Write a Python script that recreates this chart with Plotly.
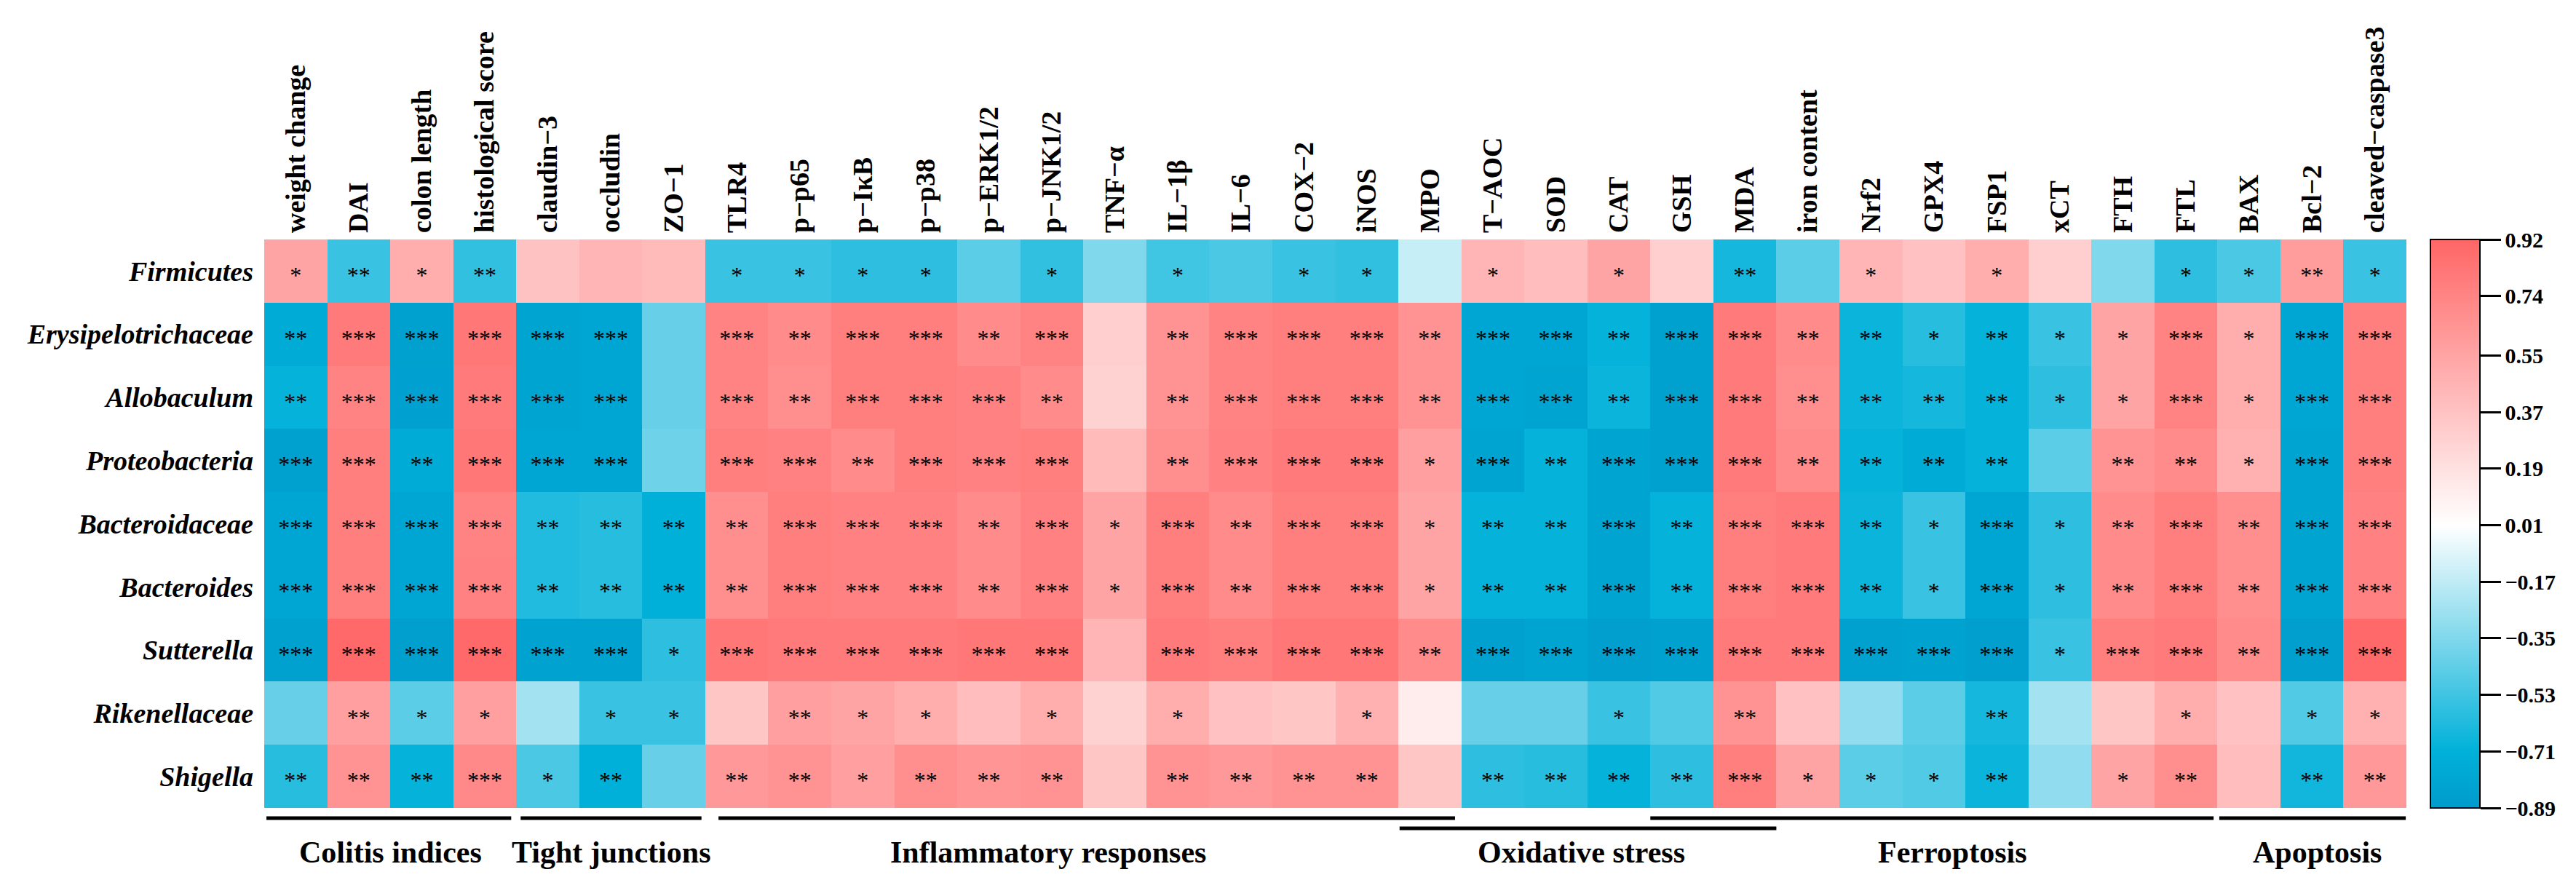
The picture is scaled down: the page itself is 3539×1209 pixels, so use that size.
import plotly.graph_objects as go

# ---------------- data ----------------
columns = ["weight change", "DAI", "colon length", "histological score",
           "claudin−3", "occludin", "ZO−1",
           "TLR4", "p−p65", "p−IκB", "p−p38", "p−ERK1/2", "p−JNK1/2", "TNF−α",
           "IL−1β", "IL−6", "COX−2", "iNOS", "MPO",
           "T−AOC", "SOD", "CAT", "GSH", "MDA",
           "iron content", "Nrf2", "GPX4", "FSP1", "xCT", "FTH", "FTL",
           "BAX", "Bcl−2", "cleaved−caspase3"]

taxa = ["Firmicutes", "Erysipelotrichaceae", "Allobaculum", "Proteobacteria",
        "Bacteroidaceae", "Bacteroides", "Sutterella", "Rikenellaceae", "Shigella"]

firmicutes = [0.55, -0.55, 0.50, -0.57, 0.37, 0.45, 0.42, -0.55, -0.55, -0.58, -0.58, -0.45,
              -0.57, -0.35, -0.53, -0.50, -0.55, -0.57, -0.15, 0.45, 0.40, 0.55, 0.30, -0.65,
              -0.45, 0.45, 0.38, 0.50, 0.30, -0.35, -0.58, -0.50, 0.60, -0.55]
erysipelotrichaceae = [-0.75, 0.80, -0.85, 0.82, -0.82, -0.80, -0.42, 0.75, 0.70, 0.78, 0.78, 0.70,
                       0.75, 0.30, 0.65, 0.75, 0.78, 0.78, 0.65, -0.80, -0.80, -0.70, -0.85, 0.80,
                       0.70, -0.68, -0.60, -0.70, -0.55, 0.55, 0.75, 0.50, -0.80, 0.78]
allobaculum = [-0.70, 0.75, -0.84, 0.80, -0.82, -0.80, -0.42, 0.75, 0.68, 0.78, 0.78, 0.76,
               0.70, 0.28, 0.65, 0.75, 0.78, 0.78, 0.65, -0.80, -0.82, -0.68, -0.85, 0.80,
               0.68, -0.68, -0.65, -0.70, -0.58, 0.55, 0.75, 0.50, -0.80, 0.78]
proteobacteria = [-0.85, 0.78, -0.75, 0.82, -0.80, -0.80, -0.40, 0.78, 0.76, 0.70, 0.78, 0.76,
                  0.78, 0.42, 0.68, 0.76, 0.80, 0.80, 0.58, -0.82, -0.70, -0.82, -0.85, 0.80,
                  0.70, -0.70, -0.75, -0.70, -0.45, 0.65, 0.70, 0.48, -0.82, 0.78]
bacteroidaceae = [-0.80, 0.78, -0.80, 0.75, -0.62, -0.60, -0.72, 0.68, 0.78, 0.76, 0.76, 0.70,
                  0.76, 0.55, 0.78, 0.70, 0.78, 0.78, 0.55, -0.70, -0.70, -0.82, -0.70, 0.78,
                  0.80, -0.68, -0.55, -0.80, -0.58, 0.70, 0.78, 0.68, -0.82, 0.76]
bacteroides = [-0.80, 0.78, -0.80, 0.76, -0.62, -0.60, -0.72, 0.68, 0.78, 0.76, 0.76, 0.70,
               0.76, 0.55, 0.78, 0.70, 0.78, 0.78, 0.55, -0.70, -0.70, -0.82, -0.70, 0.78,
               0.80, -0.68, -0.55, -0.80, -0.58, 0.70, 0.78, 0.68, -0.82, 0.76]
sutterella = [-0.85, 0.90, -0.86, 0.90, -0.83, -0.83, -0.58, 0.82, 0.80, 0.80, 0.80, 0.82,
              0.82, 0.45, 0.80, 0.78, 0.82, 0.82, 0.70, -0.85, -0.82, -0.86, -0.85, 0.80,
              0.80, -0.85, -0.83, -0.86, -0.55, 0.78, 0.80, 0.70, -0.86, 0.90]
rikenellaceae = [-0.42, 0.58, -0.45, 0.58, -0.25, -0.55, -0.55, 0.35, 0.58, 0.55, 0.50, 0.40,
                 0.50, 0.28, 0.50, 0.38, 0.35, 0.48, 0.12, -0.42, -0.42, -0.55, -0.48, 0.65,
                 0.38, -0.30, -0.45, -0.65, -0.25, 0.35, 0.50, 0.38, -0.48, 0.48]
shigella = [-0.60, 0.65, -0.70, 0.72, -0.50, -0.72, -0.42, 0.62, 0.66, 0.58, 0.68, 0.64,
            0.65, 0.35, 0.65, 0.62, 0.66, 0.65, 0.35, -0.58, -0.60, -0.70, -0.58, 0.78,
            0.55, -0.45, -0.48, -0.68, -0.30, 0.55, 0.68, 0.40, -0.66, 0.62]

# significance level (number of asterisks)
sig_firmicutes = [1, 2, 1, 2, 0, 0, 0, 1, 1, 1, 1, 0, 1, 0, 1, 0, 1, 1, 0, 1, 0, 1, 0, 2, 0, 1, 0, 1, 0, 0, 1, 1, 2, 1]
sig_erysipelotrichaceae = [2, 3, 3, 3, 3, 3, 0, 3, 2, 3, 3, 2, 3, 0, 2, 3, 3, 3, 2, 3, 3, 2, 3, 3, 2, 2, 1, 2, 1, 1, 3, 1, 3, 3]
sig_allobaculum = [2, 3, 3, 3, 3, 3, 0, 3, 2, 3, 3, 3, 2, 0, 2, 3, 3, 3, 2, 3, 3, 2, 3, 3, 2, 2, 2, 2, 1, 1, 3, 1, 3, 3]
sig_proteobacteria = [3, 3, 2, 3, 3, 3, 0, 3, 3, 2, 3, 3, 3, 0, 2, 3, 3, 3, 1, 3, 2, 3, 3, 3, 2, 2, 2, 2, 0, 2, 2, 1, 3, 3]
sig_bacteroidaceae = [3, 3, 3, 3, 2, 2, 2, 2, 3, 3, 3, 2, 3, 1, 3, 2, 3, 3, 1, 2, 2, 3, 2, 3, 3, 2, 1, 3, 1, 2, 3, 2, 3, 3]
sig_bacteroides = [3, 3, 3, 3, 2, 2, 2, 2, 3, 3, 3, 2, 3, 1, 3, 2, 3, 3, 1, 2, 2, 3, 2, 3, 3, 2, 1, 3, 1, 2, 3, 2, 3, 3]
sig_sutterella = [3, 3, 3, 3, 3, 3, 1, 3, 3, 3, 3, 3, 3, 0, 3, 3, 3, 3, 2, 3, 3, 3, 3, 3, 3, 3, 3, 3, 1, 3, 3, 2, 3, 3]
sig_rikenellaceae = [0, 2, 1, 1, 0, 1, 1, 0, 2, 1, 1, 0, 1, 0, 1, 0, 0, 1, 0, 0, 0, 1, 0, 2, 0, 0, 0, 2, 0, 0, 1, 0, 1, 1]
sig_shigella = [2, 2, 2, 3, 1, 2, 0, 2, 2, 1, 2, 2, 2, 0, 2, 2, 2, 2, 0, 2, 2, 2, 2, 3, 1, 1, 1, 2, 0, 1, 2, 0, 2, 2]

colorbar_ticks = [0.92, 0.74, 0.55, 0.37, 0.19, 0.01, -0.17, -0.35, -0.53, -0.71, -0.89]

group_labels = ["Colitis indices", "Tight junctions", "Inflammatory responses",
                "Oxidative stress", "Ferroptosis", "Apoptosis"]
group_first = ["weight change", "claudin−3", "TLR4", "MPO", "GSH", "BAX"]
group_last = ["histological score", "ZO−1", "MPO", "MDA", "FTL", "cleaved−caspase3"]

# ---------------- figure ----------------
z = [firmicutes, erysipelotrichaceae, allobaculum, proteobacteria, bacteroidaceae,
     bacteroides, sutterella, rikenellaceae, shigella]
sig = [sig_firmicutes, sig_erysipelotrichaceae, sig_allobaculum, sig_proteobacteria,
       sig_bacteroidaceae, sig_bacteroides, sig_sutterella, sig_rikenellaceae, sig_shigella]

zmin, zmax = colorbar_ticks[-1], colorbar_ticks[0]
def pos(v):
    return (v - zmin) / (zmax - zmin)

colorscale = [[0.0, "#009BCC"], [pos(-0.71), "#00B1D9"], [pos(0.01), "#FFFFFF"], [1.0, "#FF6666"]]

FONT = "Liberation Serif"
W, H = 3539, 1209
L, R, T, B = 355, 241, 321, 107

ncol, nrow = len(columns), len(taxa)
xs = list(range(ncol))
ys = list(range(nrow))

fig = go.Figure()
fig.add_trace(go.Heatmap(
    z=z, x=xs, y=ys, zmin=zmin, zmax=zmax, colorscale=colorscale,
    xgap=0, ygap=0, hoverinfo="skip",
    colorbar=dict(
        x=(3331 - L) / (W - L - R), xanchor="left", xpad=0,
        y=0.5, yanchor="middle", ypad=0, len=1, lenmode="fraction",
        thickness=68, thicknessmode="pixels",
        outlinewidth=2, outlinecolor="black",
        ticks="outside", ticklen=28, tickwidth=3, tickcolor="black",
        tickvals=colorbar_ticks,
        ticktext=["<b>" + (f"{v:.2f}".replace("-", "−")) + "</b>" for v in colorbar_ticks],
        tickfont=dict(family=FONT, size=30, color="black"),
    ),
))

# significance asterisks
tx, ty, tt = [], [], []
for r in range(nrow):
    for c in range(ncol):
        if sig[r][c] > 0:
            tx.append(c)
            ty.append(r + 0.1)
            tt.append("*" * sig[r][c])
fig.add_trace(go.Scatter(
    x=tx, y=ty, text=tt, mode="text", textposition="middle center",
    textfont=dict(family=FONT, size=32, color="black"),
    hoverinfo="skip", showlegend=False,
))

# group bars and labels
line_insets = [(0.035, 0.08), (0.07, 0.06), (0.21, 0.10), (0.02, 0.0), (0.0, 0.06), (0.03, 0.01)]
line_y = [-0.018, -0.018, -0.018, -0.036, -0.018, -0.018]
label_x = [1.5, 5.0, 11.94, 20.4, 26.3, 32.08]
for i, lab in enumerate(group_labels):
    a = columns.index(group_first[i]) - 0.5 + line_insets[i][0]
    b = columns.index(group_last[i]) + 0.5 - line_insets[i][1]
    fig.add_shape(type="line", xref="x", yref="paper", x0=a, x1=b,
                  y0=line_y[i], y1=line_y[i], line=dict(color="black", width=5))
    fig.add_annotation(x=label_x[i], y=-0.078, xref="x", yref="paper",
                       text="<b>" + lab + "</b>", showarrow=False,
                       xanchor="center", yanchor="middle",
                       font=dict(family=FONT, size=42, color="black"))

fig.update_layout(
    width=W, height=H,
    margin=dict(l=L, r=R, t=T, b=B, pad=0),
    paper_bgcolor="white", plot_bgcolor="white",
    showlegend=False,
    xaxis=dict(
        side="top", tickmode="array", tickvals=xs,
        ticktext=["<b>" + c + "</b>" for c in columns],
        tickangle=-90, ticks="", ticklabelstandoff=8,
        tickfont=dict(family=FONT, size=38, color="black"),
        range=[-0.5, ncol - 0.5], showgrid=False, zeroline=False, showline=False,
        fixedrange=True,
    ),
    yaxis=dict(
        tickmode="array", tickvals=ys,
        ticktext=["<b><i>" + t + "</i></b>" for t in taxa],
        ticks="", ticklabelstandoff=14,
        tickfont=dict(family=FONT, size=38, color="black"),
        range=[nrow - 0.5, -0.5], showgrid=False, zeroline=False, showline=False,
        fixedrange=True,
    ),
)

fig.write_html("out.html")
